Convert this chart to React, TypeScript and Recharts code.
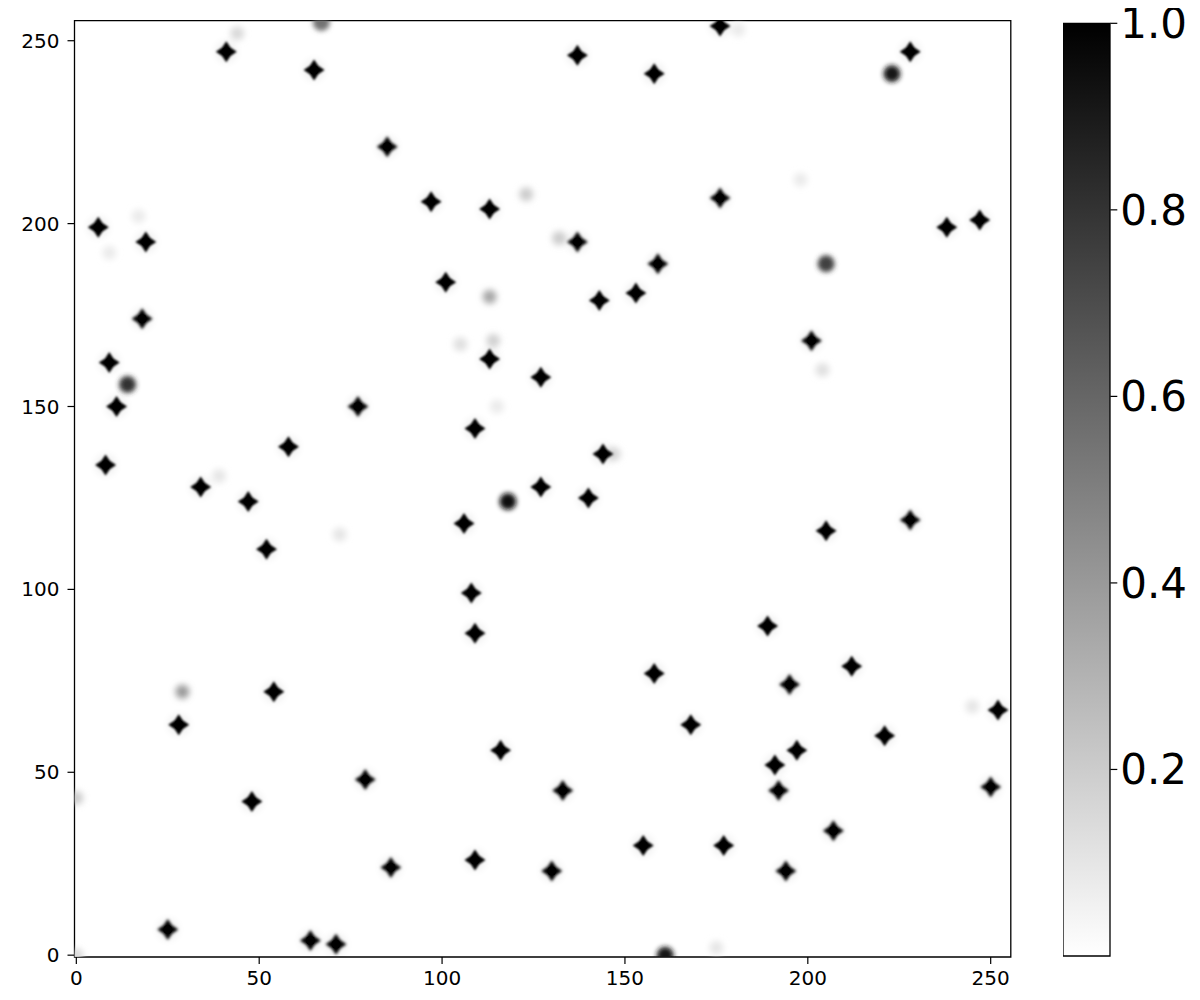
import React from "react";
import {
  ScatterChart,
  Scatter,
  XAxis,
  YAxis,
  ReferenceArea,
  BarChart,
  Bar,
} from "recharts";

// Sharp, saturated peaks (value ~1.0)
const starX = [176, 41, 65, 137, 158, 228, 85, 6, 19, 97, 113, 176, 137, 238, 247, 101, 159, 153, 143, 201, 18, 9, 113, 127, 11, 77, 58, 109, 144, 8, 34, 47, 127, 140, 52, 106, 205, 228, 108, 109, 189, 54, 158, 212, 195, 28, 168, 252, 116, 197, 221, 191, 79, 133, 192, 250, 48, 207, 109, 155, 177, 86, 130, 194, 25, 64, 71];
const starY = [254, 247, 242, 246, 241, 247, 221, 199, 195, 206, 204, 207, 195, 199, 201, 184, 189, 181, 179, 168, 174, 162, 163, 158, 150, 150, 139, 144, 137, 134, 128, 124, 128, 125, 111, 118, 116, 119, 99, 88, 90, 72, 77, 79, 74, 63, 63, 67, 56, 56, 60, 52, 48, 45, 45, 46, 42, 34, 26, 30, 30, 24, 23, 23, 7, 4, 3];
const starSoft = [0, 0, 0, 0, 0, 0, 1, 0, 0, 0, 0, 1, 1, 0, 0, 0, 1, 0, 0, 1, 1, 0, 0, 0, 0, 1, 0, 0, 0, 0, 0, 0, 0, 0, 0, 0, 0, 1, 0, 0, 0, 0, 0, 0, 1, 0, 0, 0, 0, 0, 0, 0, 1, 1, 1, 1, 0, 1, 0, 0, 0, 1, 1, 1, 1, 1, 1];

// Diffuse, rounder peaks with their level (0..1)
const roundX = [118, 223, 205, 14, 29, 113, 161, 67, 44, 123, 132, 204, 198, 0, 0, 175, 181, 105, 114, 147, 72, 115, 245, 39, 17, 9];
const roundY = [124, 241, 189, 156, 72, 180, 0, 255, 252, 208, 196, 160, 212, 43, 0, 2, 253, 167, 168, 137, 115, 150, 68, 131, 202, 192];
const roundV = [0.95, 0.9, 0.75, 0.8, 0.4, 0.35, 0.9, 0.55, 0.15, 0.2, 0.2, 0.12, 0.08, 0.2, 0.15, 0.1, 0.08, 0.12, 0.18, 0.15, 0.1, 0.08, 0.1, 0.1, 0.08, 0.08];

const xTicks = [0, 50, 100, 150, 200, 250];
const yTicks = [0, 50, 100, 150, 200, 250];
const cbTicks = [0.2, 0.4, 0.6, 0.8, 1.0];
const cbData = [{ name: "cb", lo: 0, hi: 1 }];

const starData = starX.map((x, i) => ({ x, y: starY[i], soft: starSoft[i] }));
const roundData = roundX.map((x, i) => ({ x, y: roundY[i], v: roundV[i] }));

const FONT = "DejaVu Sans";

const StarShape = (props: any) => {
  const { cx, cy, payload } = props;
  if (cx == null || cy == null) return null;
  const r = 10.5;
  const a = 4.2;
  const d = `M${cx},${cy - r} L${cx + a},${cy - a} L${cx + r},${cy} L${cx + a},${cy + a} L${cx},${cy + r} L${cx - a},${cy + a} L${cx - r},${cy} L${cx - a},${cy - a} Z`;
  return (
    <g>
      <circle cx={cx} cy={cy} r={10} fill="#000" opacity={0.07} filter="url(#blurHalo)" />
      <path d={d} fill="#000" filter={payload.soft ? "url(#blurSoft)" : "url(#blurStar)"} />
      <circle cx={cx} cy={cy} r={4.5} fill="#000" />
    </g>
  );
};

const RoundShape = (props: any) => {
  const { cx, cy, payload } = props;
  if (cx == null || cy == null) return null;
  const v = payload.v;
  const g = Math.round(255 * (1 - v));
  const col = `rgb(${g},${g},${g})`;
  const strong = v > 0.5;
  return (
    <circle
      cx={cx}
      cy={cy}
      r={strong ? 8.5 : 7}
      fill={col}
      filter={strong ? "url(#blurRound)" : "url(#blurFaint)"}
    />
  );
};

const tickStyle = { fontSize: 20, fill: "#000", fontFamily: FONT };

export default function App() {
  const W = 1192;
  const H = 992;
  return (
    <div style={{ position: "relative", width: W, height: H, background: "#fff" }}>
      <div style={{ position: "absolute", left: 0, top: 0 }}>
        <ScatterChart
          width={W}
          height={H}
          margin={{ top: 12.6, right: 189.2, left: 0, bottom: 13 }}
        >
          <defs>
            <filter id="blurStar" x="-100%" y="-100%" width="300%" height="300%">
              <feGaussianBlur stdDeviation={1.1} />
            </filter>
            <filter id="blurSoft" x="-100%" y="-100%" width="300%" height="300%">
              <feGaussianBlur stdDeviation={1.7} />
            </filter>
            <filter id="blurHalo" x="-100%" y="-100%" width="300%" height="300%">
              <feGaussianBlur stdDeviation={4} />
            </filter>
            <filter id="blurRound" x="-100%" y="-100%" width="300%" height="300%">
              <feGaussianBlur stdDeviation={2.4} />
            </filter>
            <filter id="blurFaint" x="-100%" y="-100%" width="300%" height="300%">
              <feGaussianBlur stdDeviation={3} />
            </filter>
          </defs>
          <XAxis
            dataKey="x"
            type="number"
            domain={[-0.5, 255.5]}
            ticks={xTicks}
            allowDataOverflow
            interval={0}
            height={30}
            tickSize={7}
            tickMargin={7}
            axisLine={false}
            tickLine={{ stroke: "#000", strokeWidth: 1.2 }}
            tick={tickStyle}
          />
          <YAxis
            dataKey="y"
            type="number"
            domain={[-0.5, 255.5]}
            ticks={yTicks}
            allowDataOverflow
            interval={0}
            width={66.5}
            tickSize={7}
            tickMargin={8}
            axisLine={false}
            tickLine={{ stroke: "#000", strokeWidth: 1.2 }}
            tick={tickStyle}
          />
          <Scatter data={roundData} shape={RoundShape} isAnimationActive={false} />
          <Scatter data={starData} shape={StarShape} isAnimationActive={false} />
          <ReferenceArea
            x1={-0.5}
            x2={255.5}
            y1={-0.5}
            y2={255.5}
            fill="none"
            fillOpacity={0}
            stroke="#000"
            strokeWidth={1.3}
            strokeOpacity={1}
          />
        </ScatterChart>
      </div>
      <div style={{ position: "absolute", left: 1054.7, top: -8 }}>
        <BarChart
          width={137.3}
          height={H + 8}
          data={cbData}
          margin={{ top: 23.3, right: 0, left: 0, bottom: 44 }}
          barCategoryGap={0}
          barGap={0}
          style={{ overflow: "visible" }}
        >
          <defs>
            <linearGradient id="cbGrad" x1="0" y1="0" x2="0" y2="1">
              <stop offset="0%" stopColor="#000" />
              <stop offset="100%" stopColor="#fff" />
            </linearGradient>
          </defs>
          <XAxis dataKey="name" type="category" hide />
          <YAxis
            orientation="right"
            type="number"
            domain={[0, 1]}
            ticks={cbTicks}
            interval={0}
            width={90}
            tickSize={7}
            tickMargin={3}
            axisLine={false}
            tickLine={{ stroke: "#000", strokeWidth: 1.2 }}
            tick={{ fontSize: 42, fill: "#000", fontFamily: FONT }}
            tickFormatter={(v: number) => v.toFixed(1)}
          />
          <Bar
            dataKey={(d: any) => [d.lo, d.hi]}
            fill="url(#cbGrad)"
            stroke="#000"
            strokeWidth={1.3}
            isAnimationActive={false}
          />
        </BarChart>
      </div>
    </div>
  );
}
